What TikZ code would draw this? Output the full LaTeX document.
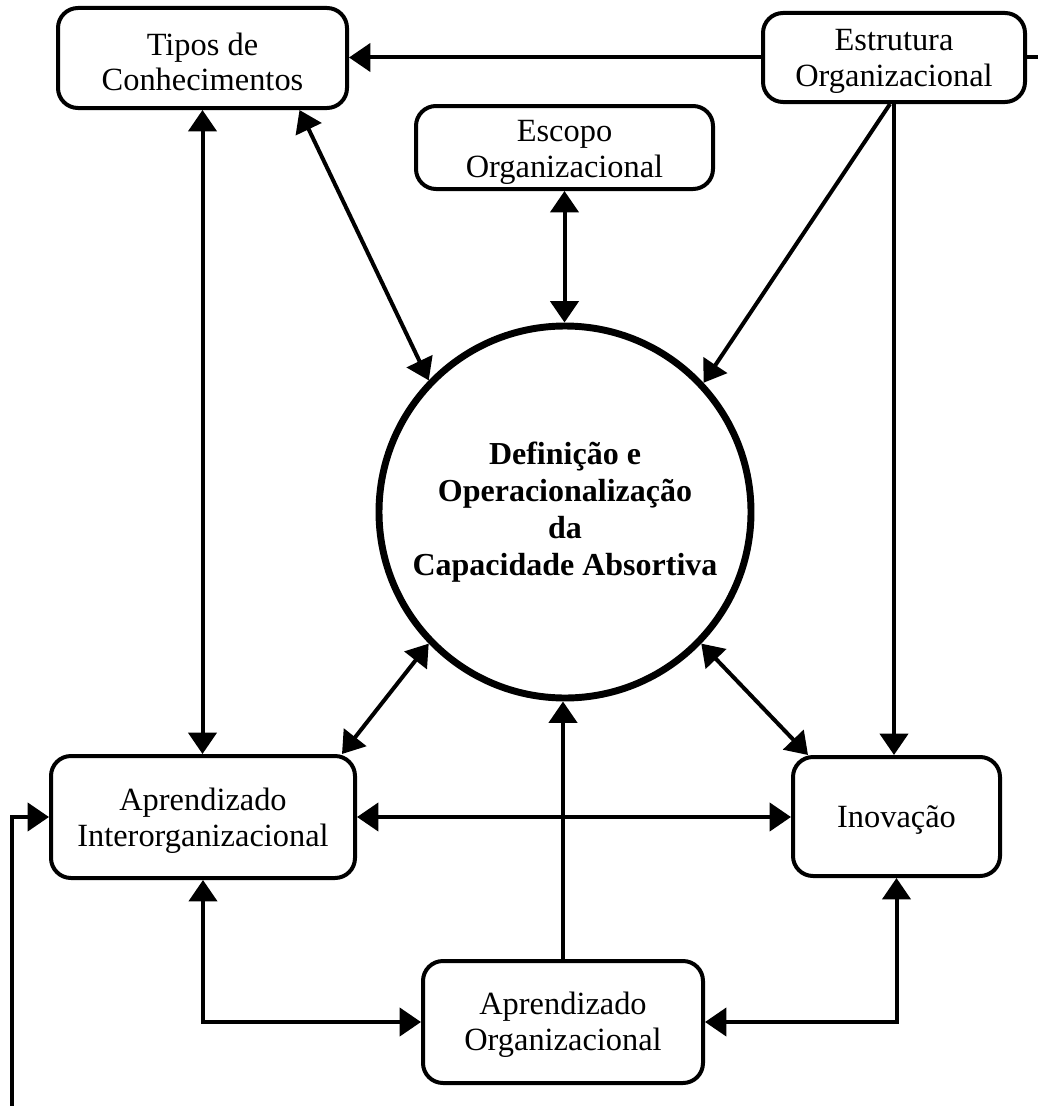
\documentclass[tikz,border=0pt]{standalone}
\usepackage{fontspec}
\setmainfont{Liberation Serif}
\usetikzlibrary{arrows.meta,calc}
\tikzset{
  box/.style={draw, line width=3pt, rounded corners=15pt, inner sep=0pt},
  txt/.style={align=center, inner sep=0pt, font=\fontsize{24.3pt}{26.8pt}\selectfont},
  big/.style={draw, circle, line width=5.2pt, align=center, inner sep=0pt,
    minimum size=279pt, font=\fontsize{24pt}{27.6pt}\selectfont\bfseries},
  conn/.style={line width=3pt},
  tip/.tip={Triangle[length=16pt,width=21pt]},
  both/.style={conn, tip-tip},
  one/.style={conn, -tip},
}
\begin{document}
\begin{tikzpicture}[x=0.75pt,y=-0.75pt]
\useasboundingbox (0,0) rectangle (1038,1106);
\node[box, minimum width=216.75pt, minimum height=75pt] (tipos) at (202.5,58) {};
\node[txt] (tiposT) at ($(tipos)+(0,4)$) {Tipos de\\Conhecimentos};
\node[box, minimum width=196.5pt, minimum height=66.75pt] (estr) at (894,57.5) {};
\node[txt] (estrT) at ($(estr)+(0,4)$) {Estrutura\\Organizacional};
\node[box, minimum width=222.75pt, minimum height=62.25pt] (escopo) at (564.5,147.5) {};
\node[txt] (escopoT) at ($(escopo)+(0,5)$) {Escopo\\Organizacional};
\node[big] (circ) at (565,512) {Definição e\\Operacionalização\\da\\Capacidade Absortiva};
\node[box, minimum width=228pt, minimum height=91.5pt] (inter) at (203,817) {};
\node[txt] (interT) at ($(inter)+(0,4)$) {Aprendizado\\Interorganizacional};
\node[box, minimum width=155.25pt, minimum height=89.25pt] (inov) at (896.5,816.5) {};
\node[txt] (inovT) at ($(inov)+(0,4)$) {Inovação};
\node[box, minimum width=210pt, minimum height=91.5pt] (org) at (563,1022) {};
\node[txt] (orgT) at ($(org)+(0,3)$) {Aprendizado\\Organizacional};
\coordinate (rstub) at (1038,57.5);
\coordinate (lstub) at (12,1106);

\draw[one] (estr.west) -- (estr.west -| tipos.east);
\draw[conn] (estr.east) -- (rstub);
\draw[both] (tipos.south) -- (tipos.south |- inter.north);
\draw[both] ($(tipos.south)+(97,0)$) -- (circ.136);
\draw[both] (escopo.south) -- (escopo.south |- circ.north);
\draw[one] ($(estr.south)+(-4,0)$) -- (circ.43);
\draw[one] (estr.south) -- (estr.south |- inov.north);
\draw[both] (circ.224) -- ($(inter.north east)+(-15,0)$);
\draw[both] (circ.316) -- ($(inov.north west)+(17,0)$);
\draw[both] (inter.east) -- (inter.east -| inov.west);
\draw[one] (org.north) -- (org.north |- circ.south);
\draw[both] (org.west) -| (inter.south);
\draw[both] (org.east) -| (inov.south);
\draw[one] (lstub) |- (inter.west);
\end{tikzpicture}
\end{document}
